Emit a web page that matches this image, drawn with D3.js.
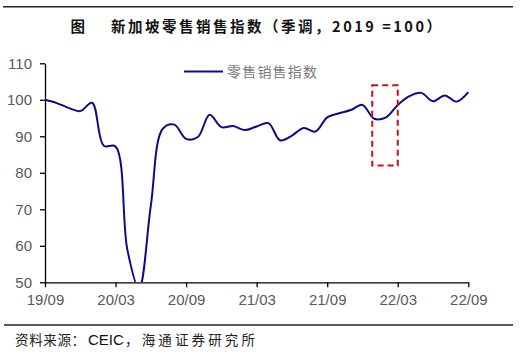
<!DOCTYPE html>
<html><head><meta charset="utf-8">
<script src="https://cdn.jsdelivr.net/npm/d3@7"></script>
<style>
html,body{margin:0;padding:0;background:#fff;}
svg{display:block;}
</style></head>
<body>
<svg id="chart" width="528" height="359"></svg>
<script>
// ---- data ----
const months = ["2019-09","2019-10","2019-11","2019-12","2020-01","2020-02","2020-03","2020-04","2020-05","2020-06","2020-07","2020-08","2020-09","2020-10","2020-11","2020-12","2021-01","2021-02","2021-03","2021-04","2021-05","2021-06","2021-07","2021-08","2021-09","2021-10","2021-11","2021-12","2022-01","2022-02","2022-03","2022-04","2022-05","2022-06","2022-07","2022-08","2022-09"];
const retailIndex = [100.0,99.1,97.8,96.9,99.2,87.4,87.2,59.0,48.3,71.0,92.0,93.2,89.3,89.8,95.9,92.5,92.8,91.7,92.7,93.6,88.9,90.2,92.3,91.3,95.2,96.3,97.2,98.6,94.8,95.2,98.6,101.0,101.9,99.6,101.2,99.5,102.1];
const xTickMonths = ["2019-09","2020-03","2020-09","2021-03","2021-09","2022-03","2022-09"];
const xTickLabels = ["19/09","20/03","20/09","21/03","21/09","22/03","22/09"];
const yTicks = [50,60,70,80,90,100,110];
const seriesName = "零售销售指数";
const titleText = "新加坡零售销售指数（季调，2019 =100）";
const sourceParts = ["资料来源：", "CEIC", "，海通证券研究所"];
const highlightMonths = ["2022-01","2022-03"];
const highlightRange = [82, 104];

const svg = d3.select("#chart");
const L = 45, R = 468.3, T = 63.3, B = 282.3;
const x = d3.scalePoint().domain(months).range([L, R]).padding(0);
const y = d3.scaleLinear().domain([50, 110]).range([B, T]);
const latin = "'Liberation Sans', Arial, sans-serif";
const cjk = "'Noto Sans CJK SC', sans-serif";

// frame lines
svg.append("line").attr("x1", 3).attr("x2", 513).attr("y1", 6.7).attr("y2", 6.7)
  .attr("stroke", "#222").attr("stroke-width", 1.5);
svg.append("line").attr("x1", 4).attr("x2", 513).attr("y1", 325).attr("y2", 325)
  .attr("stroke", "#222").attr("stroke-width", 1.5);

// title
svg.append("text").attr("x", 70.5).attr("y", 32).text("图")
  .attr("font-family", cjk).attr("font-weight", "bold").attr("font-size", 14.5).attr("fill", "#111");
svg.append("text").attr("x", 111).attr("y", 32).text(titleText)
  .attr("font-family", cjk).attr("font-weight", "bold").attr("font-size", 14.5).attr("fill", "#111")
  .attr("textLength", 330).attr("lengthAdjust", "spacing");

// source
svg.append("text").attr("x", 15).attr("y", 345).text(sourceParts[0])
  .attr("font-family", cjk).attr("font-size", 13.5).attr("fill", "#222")
  .attr("textLength", 70).attr("lengthAdjust", "spacing");
svg.append("text").attr("x", 88).attr("y", 345).text(sourceParts[1])
  .attr("font-family", latin).attr("font-size", 15).attr("fill", "#111");
svg.append("text").attr("x", 125).attr("y", 345).text(sourceParts[2])
  .attr("font-family", cjk).attr("font-size", 13.5).attr("fill", "#222")
  .attr("textLength", 130).attr("lengthAdjust", "spacing");

// axes
const yAxis = d3.axisLeft(y).tickValues(yTicks).tickSize(5).tickSizeOuter(0).tickPadding(8);
const gy = svg.append("g").attr("transform", `translate(${L},0)`).call(yAxis);
const xAxis = d3.axisBottom(x).tickValues(xTickMonths)
  .tickFormat((d) => xTickLabels[xTickMonths.indexOf(d)])
  .tickSize(5).tickSizeOuter(0).tickPadding(7);
const gx = svg.append("g").attr("transform", `translate(0,${B})`).call(xAxis);
[gx, gy].forEach(g => {
  g.selectAll(".domain").attr("stroke", "#000").attr("stroke-width", 1.3);
  g.selectAll(".tick line").attr("stroke", "#000").attr("stroke-width", 1.3);
  g.selectAll("text").attr("font-family", latin).attr("font-size", 15).attr("fill", "#595959");
});

// clip
svg.append("clipPath").attr("id", "plotclip").append("rect")
  .attr("x", L).attr("y", T - 10).attr("width", R - L + 10).attr("height", B - T + 10);

// line
const line = d3.line().x((d, i) => x(months[i])).y(d => y(d)).curve(d3.curveCatmullRom.alpha(0.5));
svg.append("path").datum(retailIndex).attr("d", line)
  .attr("clip-path", "url(#plotclip)")
  .attr("fill", "none").attr("stroke", "#0c0c8a").attr("stroke-width", 2);

// highlight box
const hx0 = x(highlightMonths[0]) - 2, hx1 = x(highlightMonths[1]);
svg.append("rect").attr("x", hx0).attr("y", y(highlightRange[1]))
  .attr("width", hx1 - hx0).attr("height", y(highlightRange[0]) - y(highlightRange[1]))
  .attr("fill", "none").attr("stroke", "#d01010").attr("stroke-width", 2)
  .attr("stroke-dasharray", "6,4");

// legend
svg.append("line").attr("x1", 184).attr("x2", 223).attr("y1", 71.5).attr("y2", 71.5)
  .attr("stroke", "#0c0c8a").attr("stroke-width", 2);
svg.append("text").attr("x", 227).attr("y", 76.5).text(seriesName)
  .attr("font-family", cjk).attr("font-size", 14).attr("fill", "#7a7a7a")
  .attr("textLength", 90).attr("lengthAdjust", "spacing");
</script>
</body></html>
